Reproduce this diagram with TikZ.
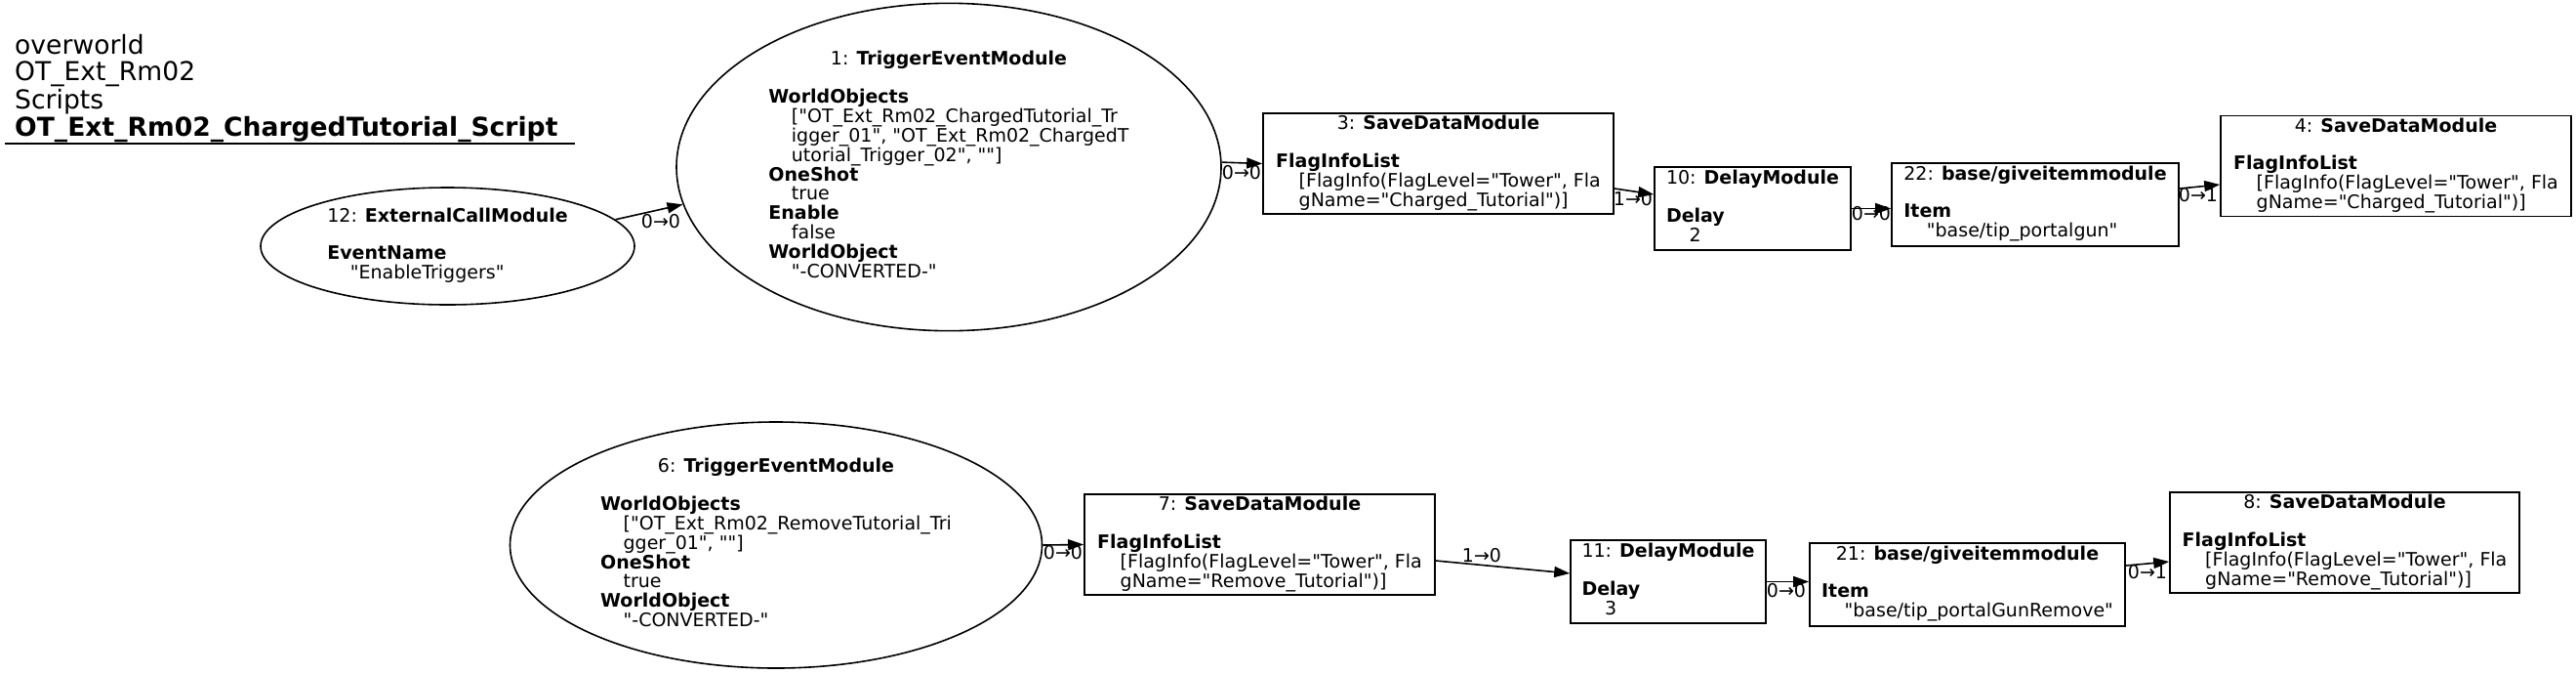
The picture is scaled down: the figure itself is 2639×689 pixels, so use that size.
\documentclass[tikz,border=0pt]{standalone}
\usepackage{fontspec}
\setmainfont{DejaVu Sans}[Ligatures=TeXOff]
\usetikzlibrary{shapes.geometric,arrows.meta,calc}
\newcommand\bodyfont{\fontsize{19}{18.55}\selectfont}
\newcommand\titlefont{\fontsize{26.6}{27.3}\selectfont}
\newcommand\val{\hspace*{23.5pt}}
\newcommand\ttl[1]{\multicolumn{1}{@{}c@{}}{#1}}
\begin{document}
\begin{tikzpicture}[x=1pt,y=-1pt,
  box/.style={draw, rectangle, line width=1.6pt, inner sep=0pt, font=\bodyfont},
  ell/.style={draw, ellipse, line width=1.6pt, inner sep=0pt, font=\bodyfont},
  edge/.style={line width=1.6pt, -{Triangle[length=16pt,width=11pt]}},
  elabel/.style={font=\bodyfont, inner sep=0pt, anchor=base}]
\useasboundingbox (0,0) rectangle (2639,689);

% title
\node[anchor=base west, inner sep=0pt, font=\titlefont] (title) at (15,55)
  {\begin{tabular}[t]{@{}l@{}}overworld\\OT\_Ext\_Rm02\\Scripts\\\textbf{OT\_Ext\_Rm02\_ChargedTutorial\_Script}\end{tabular}};
\draw[line width=1.8pt] (5,147) -- (589,147);

% top row
\node[ell, minimum width=383pt, minimum height=120pt] (n12) at (458.5,252)
  {\begin{tabular}{@{}l@{}}\ttl{12: \textbf{ExternalCallModule}}\\ \\ \textbf{EventName}\\ \val "EnableTriggers"\end{tabular}};

\node[ell, minimum width=558pt, minimum height=332pt] (n1) at (972,171)
  {\begin{tabular}{@{}l@{}}\ttl{1: \textbf{TriggerEventModule}}\\ \\ \textbf{WorldObjects}\\
   \val ["OT\_Ext\_Rm02\_ChargedTutorial\_Tr\\
   \val igger\_01", "OT\_Ext\_Rm02\_ChargedT\\
   \val utorial\_Trigger\_02", ""]\\
   \textbf{OneShot}\\ \val true\\ \textbf{Enable}\\ \val false\\ \textbf{WorldObject}\\ \val "-CONVERTED-"\end{tabular}};

\node[box, minimum width=359pt, minimum height=103pt] (n3) at (1473.5,167.5)
  {\begin{tabular}{@{}l@{}}\ttl{3: \textbf{SaveDataModule}}\\ \\ \textbf{FlagInfoList}\\
   \val [FlagInfo(FlagLevel="Tower", Fla\\ \val gName="Charged\_Tutorial")]\end{tabular}};

\node[box, minimum width=201pt, minimum height=85pt] (n10) at (1795.5,213.5)
  {\begin{tabular}{@{}l@{}}\ttl{10: \textbf{DelayModule}}\\ \\ \textbf{Delay}\\ \val 2\end{tabular}};

\node[box, minimum width=294pt, minimum height=85pt] (n22) at (2085,209.5)
  {\begin{tabular}{@{}l@{}}\ttl{22: \textbf{base/giveitemmodule}}\\ \\ \textbf{Item}\\ \val "base/tip\_portalgun"\end{tabular}};

\node[box, minimum width=359pt, minimum height=103pt] (n4) at (2454.5,170)
  {\begin{tabular}{@{}l@{}}\ttl{4: \textbf{SaveDataModule}}\\ \\ \textbf{FlagInfoList}\\
   \val [FlagInfo(FlagLevel="Tower", Fla\\ \val gName="Charged\_Tutorial")]\end{tabular}};

% bottom row
\node[ell, minimum width=545pt, minimum height=252pt] (n6) at (795,558)
  {\begin{tabular}{@{}l@{}}\ttl{6: \textbf{TriggerEventModule}}\\ \\ \textbf{WorldObjects}\\
   \val ["OT\_Ext\_Rm02\_RemoveTutorial\_Tri\\
   \val gger\_01", ""]\\
   \textbf{OneShot}\\ \val true\\ \textbf{WorldObject}\\ \val "-CONVERTED-"\end{tabular}};

\node[box, minimum width=359pt, minimum height=103pt] (n7) at (1290.5,557.5)
  {\begin{tabular}{@{}l@{}}\ttl{7: \textbf{SaveDataModule}}\\ \\ \textbf{FlagInfoList}\\
   \val [FlagInfo(FlagLevel="Tower", Fla\\ \val gName="Remove\_Tutorial")]\end{tabular}};

\node[box, minimum width=200pt, minimum height=85pt] (n11) at (1709,595.5)
  {\begin{tabular}{@{}l@{}}\ttl{11: \textbf{DelayModule}}\\ \\ \textbf{Delay}\\ \val 3\end{tabular}};

\node[box, minimum width=323pt, minimum height=85pt] (n21) at (2015.5,598.5)
  {\begin{tabular}{@{}l@{}}\ttl{21: \textbf{base/giveitemmodule}}\\ \\ \textbf{Item}\\ \val "base/tip\_portalGunRemove"\end{tabular}};

\node[box, minimum width=358pt, minimum height=103pt] (n8) at (2402,555.5)
  {\begin{tabular}{@{}l@{}}\ttl{8: \textbf{SaveDataModule}}\\ \\ \textbf{FlagInfoList}\\
   \val [FlagInfo(FlagLevel="Tower", Fla\\ \val gName="Remove\_Tutorial")]\end{tabular}};

% edges
\draw[edge] (n12.9) -- (n1.188);
\draw[edge] (n1.1) -- (n3.west);
\draw[edge] ([yshift=-25.5pt]n3.east) -- ([yshift=14.5pt]n10.west);
\draw[edge] (n10.east) -- (n10.east -| n22.west);
\draw[edge] ([yshift=16.5pt]n22.east) -- ([yshift=-19pt]n4.west);
\draw[edge] (n6.east) -- (n7.west);
\draw[edge] ([yshift=-16.5pt]n7.east) -- ([yshift=8.5pt]n11.west);
\draw[edge] (n11.east) -- (n11.east -| n21.west);
\draw[edge] ([yshift=19.5pt]n21.east) -- ([yshift=-19.5pt]n8.west);

% edge labels
\node[elabel] (l1) at (677,233) {0→0};
\node[elabel] (l2) at (1272,183) {0→0};
\node[elabel] (l3) at (1673,210) {1→0};
\node[elabel] (l4) at (1917,225) {0→0};
\node[elabel] (l5) at (2252,206) {0→1};
\node[elabel] (l6) at (1089,572) {0→0};
\node[elabel] (l7) at (1518,575) {1→0};
\node[elabel] (l8) at (1830,611) {0→0};
\node[elabel] (l9) at (2200,592) {0→1};
\end{tikzpicture}
\end{document}
